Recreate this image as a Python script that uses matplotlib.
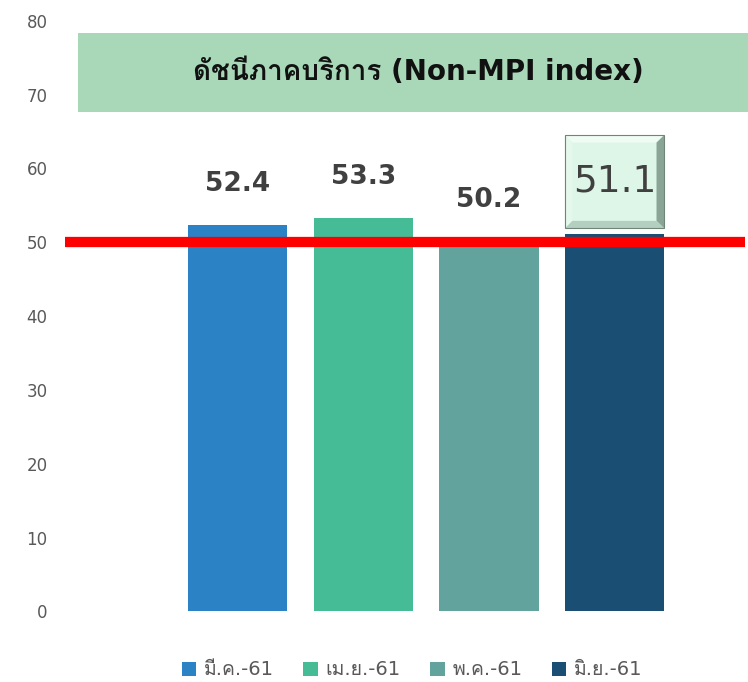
import matplotlib
matplotlib.use("Agg")
import matplotlib.pyplot as plt
from matplotlib.patches import Rectangle, Polygon

plt.rcParams['font.family'] = ['DejaVu Sans', 'Loma']

# data
months = ['มี.ค.-61', 'เม.ย.-61', 'พ.ค.-61', 'มิ.ย.-61']
values = [52.4, 53.3, 50.2, 51.1]
threshold = 50
title = 'ดัชนีภาคบริการ (Non-MPI index)'
yticks = [0, 10, 20, 30, 40, 50, 60, 70, 80]

colors = ['#2b83c6', '#45bc96', '#62a39d', '#1a4f73']
text_gray = '#595959'

fig = plt.figure(figsize=(7.48, 6.82), dpi=100)
ax = fig.add_axes([0.0802, 0.1035, 0.9158, 0.866])

x = list(range(len(months)))
bw = 0.79
ax.bar(x, values, width=bw, color=colors, zorder=2)

ax.set_xlim(-1.417, 4.04)
ax.set_ylim(0, 80)
ax.set_yticks(yticks)
ax.set_xticks([])
ax.tick_params(axis='y', length=0, pad=9, labelsize=12, labelcolor=text_gray)
for s in ax.spines.values():
    s.set_visible(False)

# red reference line at 50
ax.axhline(threshold, xmin=0.007, xmax=1.0, color='#ff0000', lw=7.4, zorder=3,
           solid_capstyle='butt')

# value labels; the last one sits in a bevelled box
for i, v in enumerate(values):
    if i < len(values) - 1:
        ax.text(i, v + 5.5, f'{v:.1f}', ha='center', va='center', fontsize=19,
                fontweight='bold', color='#404040', zorder=4)
    else:
        cy = v + 7.1
        hw, hh = bw / 2, 6.3
        bx, by = 0.06, 1.0  # bevel size
        x0, x1, y0, y1 = i - hw, i + hw, cy - hh, cy + hh
        ax.add_patch(Rectangle((x0, y0), 2 * hw, 2 * hh, fc='#def6e8', ec='none',
                               zorder=4))
        # top / left light, right / bottom dark
        ax.add_patch(Polygon([(x0, y1), (x1, y1), (x1 - bx, y1 - by), (x0 + bx, y1 - by)],
                             fc='#eefcf4', ec='none', zorder=4))
        ax.add_patch(Polygon([(x0, y0), (x0, y1), (x0 + bx, y1 - by), (x0 + bx, y0 + by)],
                             fc='#e4f8ec', ec='none', zorder=4))
        ax.add_patch(Polygon([(x1, y0), (x1, y1), (x1 - bx, y1 - by), (x1 - bx, y0 + by)],
                             fc='#8aa596', ec='none', zorder=4))
        ax.add_patch(Polygon([(x0, y0), (x1, y0), (x1 - bx, y0 + by), (x0 + bx, y0 + by)],
                             fc='#b3cfbf', ec='none', zorder=4))
        ax.add_patch(Rectangle((x0, y0), 2 * hw, 2 * hh, fc='none', ec='#6f8578',
                               lw=0.8, zorder=5))
        ax.text(i, cy, f'{v:.1f}', ha='center', va='center', fontsize=27,
                color='#404040', zorder=6)

# title banner
fig.patches.append(Rectangle((0.104, 0.836), 0.896, 0.116, transform=fig.transFigure,
                             fc='#a9d8b8', ec='none', zorder=1))
fig.text(0.559, 0.894, title, ha='center', va='center', fontsize=20,
         fontweight='bold', color='#111111')

# legend
handles = [Rectangle((0, 0), 1, 1, fc=c) for c in colors]
fig.legend(handles, months, loc='center', bbox_to_anchor=(0.551, 0.0176), ncol=4,
           frameon=False, fontsize=14, labelcolor=text_gray, handlelength=0.75,
           handleheight=0.75, handletextpad=0.4, columnspacing=1.5)

fig.savefig('out.png', dpi=100)
